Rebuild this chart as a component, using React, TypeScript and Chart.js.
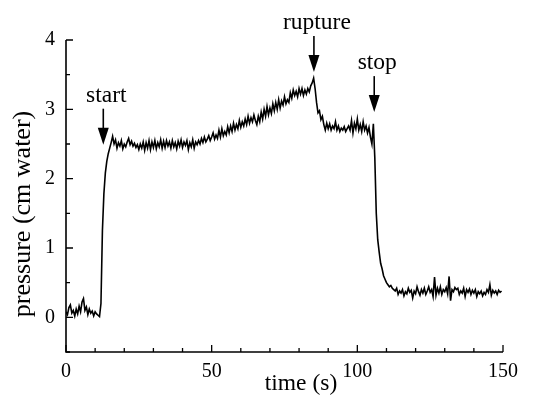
import React, { useEffect, useRef } from "react";
import { Chart, registerables } from "chart.js";

Chart.register(...registerables);

// Sampling interval of the pressure record (seconds)
const SAMPLE_INTERVAL = 0.5;

// Pressure (cm water), sampled every 0.5 s from t = 0 s
const PRESSURE_BASELINE = [
  0.08, 0.04, 0.14, 0.18, 0.06, 0.1, 0.02, 0.12, 0.05, 0.16, 0.08, 0.22,
  0.27, 0.1, 0.15, 0.04, 0.12, 0.06, 0.09, 0.02, 0.08, 0.05, 0.03, 0.01,
];
const PRESSURE_START = [0.2, 1.25, 1.78, 2.08, 2.25, 2.36, 2.44, 2.52, 2.61];
const PRESSURE_PLATEAU = [
  2.5, 2.56, 2.44, 2.52, 2.47, 2.55, 2.43, 2.5, 2.46, 2.53,
  2.58, 2.49, 2.54, 2.47, 2.51, 2.45, 2.49, 2.42, 2.5, 2.44,
  2.53, 2.41, 2.52, 2.44, 2.55, 2.42, 2.53, 2.45, 2.55, 2.43,
  2.52, 2.46, 2.56, 2.44, 2.54, 2.45, 2.55, 2.47, 2.53, 2.44,
  2.55, 2.46, 2.52, 2.43, 2.54, 2.47, 2.56, 2.45, 2.53, 2.48,
  2.55, 2.42, 2.52, 2.46, 2.56, 2.44, 2.53, 2.49,
];
const PRESSURE_RISE = [
  2.55, 2.5, 2.58, 2.52, 2.6, 2.53, 2.57, 2.62, 2.55, 2.6,
  2.66, 2.57, 2.63, 2.58, 2.7, 2.6, 2.72, 2.62, 2.68, 2.63,
  2.75, 2.66, 2.76, 2.68, 2.8, 2.7, 2.78, 2.72, 2.84, 2.74,
  2.82, 2.76, 2.86, 2.78, 2.9, 2.8, 2.88, 2.82, 2.92, 2.84,
  2.78, 2.9, 2.82, 2.96, 2.86, 3.0, 2.9, 3.04, 2.92, 3.02,
  2.94, 3.08, 2.98, 3.1, 3.0, 3.14, 3.02, 3.12, 3.06, 3.18,
  3.08, 3.14, 3.1, 3.24, 3.16, 3.28, 3.2, 3.26, 3.18, 3.3,
  3.22, 3.3, 3.2, 3.28, 3.22, 3.3, 3.25, 3.34, 3.38, 3.45,
];
const PRESSURE_AFTER_RUPTURE = [
  3.3, 3.1, 2.95, 2.98, 2.85, 2.9, 2.78, 2.7, 2.8, 2.72,
  2.79, 2.7, 2.76, 2.72, 2.82, 2.7, 2.76, 2.68, 2.73, 2.7,
  2.75, 2.68, 2.72, 2.76, 2.7, 2.84, 2.66, 2.8, 2.72, 2.86,
  2.7, 2.78, 2.68, 2.82, 2.7, 2.76, 2.66, 2.74, 2.6, 2.5,
  2.79,
];
const PRESSURE_STOP = [
  2.3, 1.5, 1.12, 0.94, 0.78, 0.7, 0.6, 0.55, 0.5, 0.47, 0.44, 0.46, 0.42, 0.4,
];
const PRESSURE_TAIL = [
  0.38, 0.42, 0.33, 0.38, 0.35, 0.4, 0.31, 0.37, 0.34, 0.42,
  0.36, 0.39, 0.28, 0.38, 0.34, 0.44, 0.37, 0.32, 0.4, 0.35,
  0.42, 0.33, 0.38, 0.44, 0.36, 0.4, 0.3, 0.58, 0.32, 0.42,
  0.35, 0.44, 0.33, 0.4, 0.37, 0.43, 0.34, 0.59, 0.24, 0.4,
  0.37, 0.43, 0.4, 0.42, 0.33, 0.38, 0.35, 0.42, 0.3, 0.4,
  0.36, 0.41, 0.33, 0.39, 0.35, 0.4, 0.3, 0.37, 0.34, 0.38,
  0.31, 0.36, 0.33, 0.4, 0.36, 0.47, 0.32, 0.39, 0.35, 0.38,
  0.33, 0.39, 0.36, 0.38,
];

const PRESSURE = [
  ...PRESSURE_BASELINE,
  ...PRESSURE_START,
  ...PRESSURE_PLATEAU,
  ...PRESSURE_RISE,
  ...PRESSURE_AFTER_RUPTURE,
  ...PRESSURE_STOP,
  ...PRESSURE_TAIL,
];
const TIME_S = PRESSURE.map((_, i) => i * SAMPLE_INTERVAL);

// Axis ranges and tick labels
const X_MIN = 0;
const X_MAX = 150;
const X_STEP = 10;
const X_LABELS = [0, 50, 100, 150];
const Y_MIN = -0.5;
const Y_MAX = 4;
const Y_STEP = 0.5;
const Y_LABELS = [0, 1, 2, 3, 4];

// Annotations: label, time (s), pressure at arrow tip
const ANNOTATION_LABELS = ["start", "rupture", "stop"];
const ANNOTATION_TIMES = [12.8, 85.1, 105.8];
const ANNOTATION_TIPS = [2.49, 3.54, 2.96];

const X_TITLE = "time (s)";
const Y_TITLE = "pressure (cm water)";

const FONT = "'Liberation Serif'";

const customDraw = {
  id: "customDraw",
  afterDraw(chart: any) {
    const ctx = chart.ctx as CanvasRenderingContext2D;
    const xs = chart.scales.x;
    const ys = chart.scales.y;
    const area = chart.chartArea;
    ctx.save();
    ctx.strokeStyle = "#000";
    ctx.fillStyle = "#000";

    // axis lines
    ctx.lineWidth = 1.6;
    ctx.beginPath();
    ctx.moveTo(area.left, area.top);
    ctx.lineTo(area.left, area.bottom);
    ctx.lineTo(area.right, area.bottom);
    ctx.stroke();

    // inward ticks
    ctx.lineWidth = 1.3;
    ctx.beginPath();
    for (const t of xs.ticks) {
      const px = xs.getPixelForValue(t.value);
      const len = X_LABELS.includes(t.value) ? 7 : 4;
      ctx.moveTo(px, area.bottom);
      ctx.lineTo(px, area.bottom - len);
    }
    for (const t of ys.ticks) {
      const py = ys.getPixelForValue(t.value);
      const len = Y_LABELS.includes(t.value) ? 7 : 4;
      ctx.moveTo(area.left, py);
      ctx.lineTo(area.left + len, py);
    }
    ctx.stroke();

    // annotations
    ctx.font = `23.5px ${FONT}`;
    ctx.textAlign = "center";
    ctx.textBaseline = "alphabetic";
    ANNOTATION_LABELS.forEach((label, i) => {
      const px = xs.getPixelForValue(ANNOTATION_TIMES[i]);
      const tip = ys.getPixelForValue(ANNOTATION_TIPS[i]);
      const top = tip - 36;
      ctx.lineWidth = 1.6;
      ctx.beginPath();
      ctx.moveTo(px, top);
      ctx.lineTo(px, tip - 14);
      ctx.stroke();
      ctx.beginPath();
      ctx.moveTo(px, tip);
      ctx.lineTo(px - 5.5, tip - 17);
      ctx.lineTo(px + 5.5, tip - 17);
      ctx.closePath();
      ctx.fill();
      ctx.fillText(label, px + 3, top - 7);
    });

    // axis titles
    ctx.font = `23.5px ${FONT}`;
    ctx.textAlign = "center";
    ctx.fillText(X_TITLE, 301, 390);
    ctx.font = `26px ${FONT}`;
    ctx.translate(30, 214);
    ctx.rotate(-Math.PI / 2);
    ctx.fillText(Y_TITLE, 0, 0);
    ctx.restore();
  },
};

export default function App() {
  const canvasRef = useRef<HTMLCanvasElement | null>(null);

  useEffect(() => {
    if (!canvasRef.current) return;
    const chart = new Chart(canvasRef.current, {
      type: "line",
      data: {
        datasets: [
          {
            data: TIME_S.map((t, i) => ({ x: t, y: PRESSURE[i] })),
            borderColor: "#000",
            borderWidth: 1.6,
            pointRadius: 0,
            tension: 0,
            fill: false,
          },
        ],
      },
      options: {
        animation: false,
        responsive: true,
        maintainAspectRatio: false,
        layout: { padding: { top: 40, right: 34, left: 0, bottom: 0 } },
        plugins: { legend: { display: false }, tooltip: { enabled: false } },
        scales: {
          x: {
            type: "linear",
            min: X_MIN,
            max: X_MAX,
            grid: { display: false, drawTicks: false },
            border: { display: false },
            ticks: {
              stepSize: X_STEP,
              autoSkip: false,
              maxRotation: 0,
              padding: 8,
              color: "#000",
              font: { family: "Liberation Serif", size: 20 },
              callback: (v: any) => (X_LABELS.includes(Number(v)) ? String(v) : ""),
            },
            afterFit: (scale: any) => {
              scale.height = 62;
            },
          },
          y: {
            type: "linear",
            min: Y_MIN,
            max: Y_MAX,
            grid: { display: false, drawTicks: false },
            border: { display: false },
            ticks: {
              stepSize: Y_STEP,
              autoSkip: false,
              padding: 11,
              color: "#000",
              font: { family: "Liberation Serif", size: 20 },
              callback: (v: any) => (Y_LABELS.includes(Number(v)) ? String(v) : ""),
            },
            afterFit: (scale: any) => {
              scale.width = 66;
            },
          },
        },
      },
      plugins: [customDraw],
    });
    return () => chart.destroy();
  }, []);

  return (
    <div style={{ position: "fixed", left: 0, top: 0, width: 537, height: 414, background: "#fff" }}>
      <canvas ref={canvasRef} />
    </div>
  );
}
